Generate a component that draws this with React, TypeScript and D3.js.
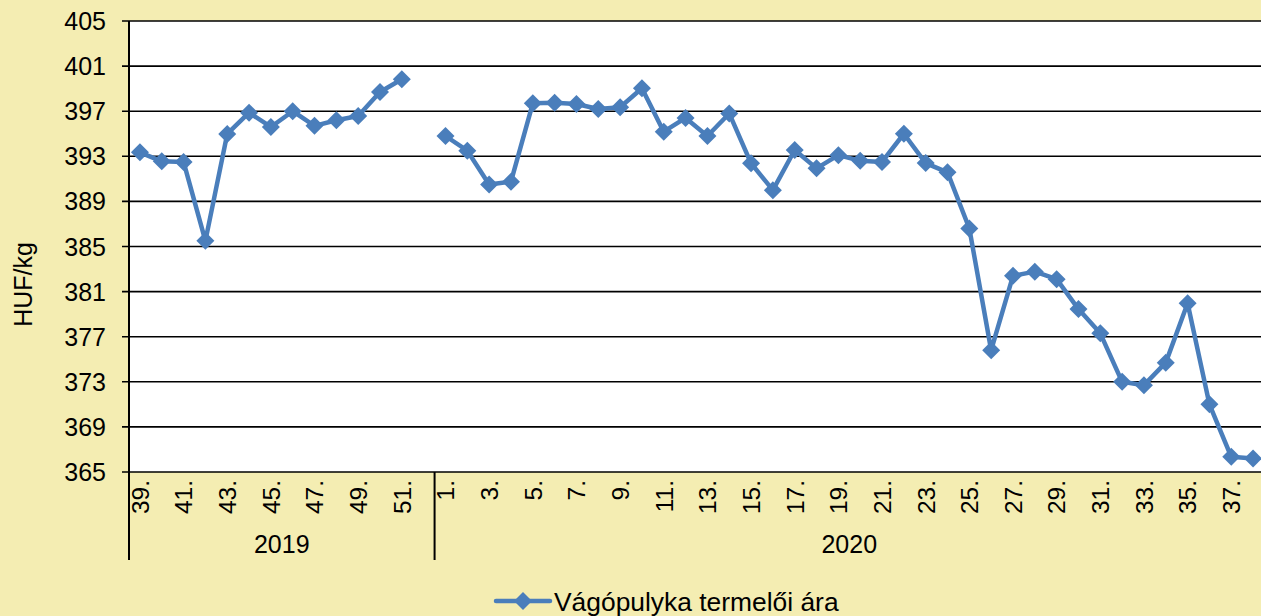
import React from 'react';
import * as d3 from 'd3';

const weeks2019 = ['39.', '40.', '41.', '42.', '43.', '44.', '45.', '46.', '47.', '48.', '49.', '50.', '51.', '52.'];
const prices2019: (number | null)[] = [393.35, 392.55, 392.5, 385.5, 394.98, 396.87, 395.6, 397.0, 395.7, 396.2, 396.57, 398.7, 399.83, null];

const weeks2020 = Array.from({ length: 38 }, (_, i) => `${i + 1}.`);
const prices2020: (number | null)[] = [
  394.8, 393.5, 390.5, 390.75, 397.7, 397.75, 397.64, 397.2, 397.35, 399.03,
  395.18, 396.4, 394.8, 396.8, 392.38, 390.0, 393.56, 391.93, 393.1, 392.6,
  392.5, 395.0, 392.4, 391.58, 386.6, 375.8, 382.4, 382.77, 382.1, 379.45,
  377.3, 373.0, 372.7, 374.7, 379.96, 371.0, 366.35, 366.2,
];

const years = ['2019', '2020'];
const yTicks = [365, 369, 373, 377, 381, 385, 389, 393, 397, 401, 405];
const seriesName = 'Vágópulyka termelői ára';
const yTitle = 'HUF/kg';

const W = 1261;
const H = 616;
const margin = { left: 129, top: 21, right: -3, bottom: 144 };
const BLUE = '#4A7EBB';
const BG = '#F4EDB2';
const FONT = 'Liberation Sans, Arial, sans-serif';

type Pt = { key: string; label: string; value: number | null; year: string };

const points: Pt[] = [
  ...weeks2019.map((w, i) => ({ key: `2019-${w}`, label: w, value: prices2019[i], year: '2019' })),
  ...weeks2020.map((w, i) => ({ key: `2020-${w}`, label: w, value: prices2020[i], year: '2020' })),
];

export default function App() {
  const innerW = W - margin.left - margin.right;
  const plotBottom = H - margin.bottom;

  const x = d3.scaleBand<string>()
    .domain(points.map(p => p.key))
    .range([margin.left, margin.left + innerW])
    .padding(0);

  const y = d3.scaleLinear()
    .domain([365, 405])
    .range([plotBottom, margin.top]);

  const cx = (p: Pt) => (x(p.key) ?? 0) + x.bandwidth() / 2;

  const line = d3.line<Pt>()
    .defined(p => p.value !== null)
    .x(cx)
    .y(p => y(p.value as number));

  const diamond = (px: number, py: number, r: number) =>
    `M${px},${py - r}L${px + r},${py}L${px},${py + r}L${px - r},${py}Z`;

  // year group edges
  const groups = years.map(yr => {
    const pts = points.filter(p => p.year === yr);
    const start = x(pts[0].key) ?? 0;
    const end = (x(pts[pts.length - 1].key) ?? 0) + x.bandwidth();
    return { yr, start, end };
  });

  const sepBottom = 560;

  return (
    <svg width={W} height={H} style={{ position: 'absolute', left: 0, top: 0, fontFamily: FONT }}>
      <rect x={0} y={0} width={W} height={H} fill={BG} />
      <rect x={margin.left} y={margin.top} width={innerW} height={plotBottom - margin.top} fill="#fff" />

      {yTicks.map(t => (
        <g key={t}>
          <line x1={margin.left - 7} x2={margin.left + innerW} y1={y(t)} y2={y(t)} stroke="#000" strokeWidth={1.6} />
          <text x={106} y={y(t)} dy="0.36em" textAnchor="end" fontSize={25} fill="#000">{t}</text>
        </g>
      ))}

      <line x1={margin.left} x2={margin.left} y1={margin.top} y2={sepBottom} stroke="#000" strokeWidth={2} />
      {groups.map(g => (
        <g key={g.yr}>
          <line x1={g.end} x2={g.end} y1={plotBottom} y2={sepBottom} stroke="#000" strokeWidth={2} />
          <text x={(g.start + g.end) / 2} y={553} textAnchor="middle" fontSize={25} fill="#000">{g.yr}</text>
        </g>
      ))}

      {points.map(p => {
        const lbl = parseInt(p.label, 10);
        if (lbl % 2 === 0) return null;
        return (
          <text key={p.key} transform={`translate(${cx(p)},${plotBottom + 8}) rotate(-90)`}
            textAnchor="end" dy="0.36em" fontSize={24.5} fill="#000">{p.label}</text>
        );
      })}

      <text transform={`translate(32,${(margin.top + plotBottom) / 2 + 38}) rotate(-90)`}
        textAnchor="middle" fontSize={25} fill="#000">{yTitle}</text>

      <path d={line(points) ?? ''} fill="none" stroke={BLUE} strokeWidth={4.5} strokeLinejoin="round" />
      {points.filter(p => p.value !== null).map(p => (
        <path key={p.key} d={diamond(cx(p), y(p.value as number), 9)} fill={BLUE} />
      ))}

      <g>
        <line x1={496} x2={550} y1={601} y2={601} stroke={BLUE} strokeWidth={4.5} strokeLinecap="round" />
        <path d={diamond(523, 601, 9)} fill={BLUE} />
        <text x={554} y={601} dy="0.36em" fontSize={26.4} fill="#000">{seriesName}</text>
      </g>
    </svg>
  );
}
